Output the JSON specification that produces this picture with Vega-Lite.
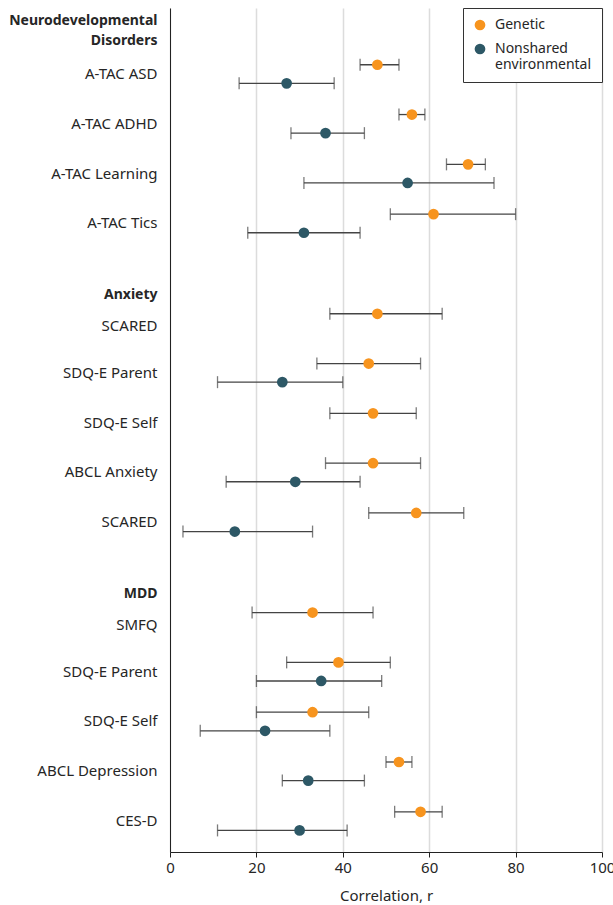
{
  "$schema": "https://vega.github.io/schema/vega-lite/v6.json",
  "width": 432,
  "height": 844,
  "autosize": {"type": "none"},
  "padding": {"left": 170, "top": 8, "right": 11, "bottom": 53},
  "config": {
    "font": "Noto Sans",
    "view": {"stroke": null},
    "axis": {"labelColor": "#262626", "titleColor": "#262626"}
  },
  "data": {
    "values": [
      {"measure": "Neuro|A-TAC ASD", "group": "Genetic", "r": 48, "lo": 44, "hi": 53},
      {"measure": "Neuro|A-TAC ASD", "group": "Nonshared environmental", "r": 27, "lo": 16, "hi": 38},
      {"measure": "Neuro|A-TAC ADHD", "group": "Genetic", "r": 56, "lo": 53, "hi": 59},
      {"measure": "Neuro|A-TAC ADHD", "group": "Nonshared environmental", "r": 36, "lo": 28, "hi": 45},
      {"measure": "Neuro|A-TAC Learning", "group": "Genetic", "r": 69, "lo": 64, "hi": 73},
      {"measure": "Neuro|A-TAC Learning", "group": "Nonshared environmental", "r": 55, "lo": 31, "hi": 75},
      {"measure": "Neuro|A-TAC Tics", "group": "Genetic", "r": 61, "lo": 51, "hi": 80},
      {"measure": "Neuro|A-TAC Tics", "group": "Nonshared environmental", "r": 31, "lo": 18, "hi": 44},
      {"measure": "Anx|SCARED", "group": "Genetic", "r": 48, "lo": 37, "hi": 63},
      {"measure": "Anx|SDQ-E Parent", "group": "Genetic", "r": 46, "lo": 34, "hi": 58},
      {"measure": "Anx|SDQ-E Parent", "group": "Nonshared environmental", "r": 26, "lo": 11, "hi": 40},
      {"measure": "Anx|SDQ-E Self", "group": "Genetic", "r": 47, "lo": 37, "hi": 57},
      {"measure": "Anx|ABCL Anxiety", "group": "Genetic", "r": 47, "lo": 36, "hi": 58},
      {"measure": "Anx|ABCL Anxiety", "group": "Nonshared environmental", "r": 29, "lo": 13, "hi": 44},
      {"measure": "Anx2|SCARED", "group": "Genetic", "r": 57, "lo": 46, "hi": 68},
      {"measure": "Anx2|SCARED", "group": "Nonshared environmental", "r": 15, "lo": 3, "hi": 33},
      {"measure": "MDD|SMFQ", "group": "Genetic", "r": 33, "lo": 19, "hi": 47},
      {"measure": "MDD|SDQ-E Parent", "group": "Genetic", "r": 39, "lo": 27, "hi": 51},
      {"measure": "MDD|SDQ-E Parent", "group": "Nonshared environmental", "r": 35, "lo": 20, "hi": 49},
      {"measure": "MDD|SDQ-E Self", "group": "Genetic", "r": 33, "lo": 20, "hi": 46},
      {"measure": "MDD|SDQ-E Self", "group": "Nonshared environmental", "r": 22, "lo": 7, "hi": 37},
      {"measure": "MDD|ABCL Depression", "group": "Genetic", "r": 53, "lo": 50, "hi": 56},
      {"measure": "MDD|ABCL Depression", "group": "Nonshared environmental", "r": 32, "lo": 26, "hi": 45},
      {"measure": "MDD|CES-D", "group": "Genetic", "r": 58, "lo": 52, "hi": 63},
      {"measure": "MDD|CES-D", "group": "Nonshared environmental", "r": 30, "lo": 11, "hi": 41}
    ]
  },
  "encoding": {
    "y": {
      "field": "measure",
      "type": "nominal",
      "scale": {
        "type": "band",
        "domain": [
          "H|Neurodevelopmental Disorders", "_01", "_02",
          "Neuro|A-TAC ASD", "_03", "_04",
          "Neuro|A-TAC ADHD", "_05", "_06",
          "Neuro|A-TAC Learning", "_07", "_08",
          "Neuro|A-TAC Tics", "_09", "_10", "_11",
          "H|Anxiety", "_12",
          "Anx|SCARED", "_13", "_14",
          "Anx|SDQ-E Parent", "_15", "_16",
          "Anx|SDQ-E Self", "_17", "_18",
          "Anx|ABCL Anxiety", "_19", "_20",
          "Anx2|SCARED", "_21", "_22", "_23",
          "H|MDD", "_24",
          "MDD|SMFQ", "_25", "_26",
          "MDD|SDQ-E Parent", "_27", "_28",
          "MDD|SDQ-E Self", "_29", "_30",
          "MDD|ABCL Depression", "_31", "_32",
          "MDD|CES-D"
        ],
        "paddingInner": 0,
        "paddingOuter": 0.92,
        "align": 0.26,
        "round": false
      },
      "axis": {
        "title": null,
        "ticks": false,
        "tickSize": 0,
        "grid": false,
        "domainColor": "#222222",
        "domainWidth": 1,
        "labelPadding": 13,
        "labelFontSize": {"condition": {"test": "indexof(datum.value, 'H|') == 0", "value": 14}, "value": 15},
        "labelLineHeight": 20,
        "labelLimit": 0,
        "labelExpr": "indexof(datum.value, '_') == 0 ? '' : datum.value == 'H|Neurodevelopmental Disorders' ? ['Neurodevelopmental', 'Disorders'] : split(datum.value, '|')[1]",
        "labelFontWeight": {"condition": {"test": "indexof(datum.value, 'H|') == 0", "value": "bold"}, "value": "normal"},
        "labelOffset": {
          "condition": [
            {"test": "datum.value == 'H|Neurodevelopmental Disorders'", "value": -3},
            {"test": "datum.value == 'H|Anxiety' || datum.value == 'H|MDD'", "value": 5},
            {"test": "datum.value == 'Anx|SCARED' || datum.value == 'MDD|SMFQ'", "value": 3}
          ],
          "value": 0
        }
      }
    },
    "yOffset": {
      "field": "group",
      "type": "nominal",
      "scale": {"domain": ["Genetic", "Nonshared environmental"], "range": [-10.3, 26.9], "paddingInner": 0, "paddingOuter": 0}
    }
  },
  "layer": [
    {
      "mark": {"type": "rule", "color": "#444444", "strokeWidth": 1.3},
      "encoding": {
        "x": {
          "field": "lo",
          "type": "quantitative",
          "scale": {"domain": [0, 100], "nice": false},
          "axis": {
            "title": "Correlation, r",
            "values": [0, 20, 40, 60, 80, 100],
            "grid": true,
            "gridColor": "#dcdcdc",
            "gridWidth": 1.5,
            "domainColor": "#222222",
            "tickColor": "#222222",
            "tickSize": 5,
            "labelFontSize": 15,
            "labelPadding": 3,
            "labelFlush": false,
            "titleFontSize": 15,
            "titleFontWeight": "normal",
            "titlePadding": 13
          }
        },
        "x2": {"field": "hi"}
      }
    },
    {
      "mark": {"type": "tick", "color": "#444444", "thickness": 1.3, "size": 12},
      "encoding": {"x": {"field": "lo", "type": "quantitative", "title": "Correlation, r"}}
    },
    {
      "mark": {"type": "tick", "color": "#444444", "thickness": 1.3, "size": 12},
      "encoding": {"x": {"field": "hi", "type": "quantitative", "title": "Correlation, r"}}
    },
    {
      "mark": {"type": "point", "filled": true, "size": 115, "opacity": 1},
      "encoding": {
        "x": {"field": "r", "type": "quantitative", "title": "Correlation, r"},
        "color": {
          "field": "group",
          "type": "nominal",
          "scale": {"domain": ["Genetic", "Nonshared environmental"], "range": ["#F7941E", "#2D5866"]},
          "legend": {
            "title": null,
            "orient": "top-right",
            "offset": 0,
            "padding": 10,
            "strokeColor": "#333333",
            "fillColor": "#ffffff",
            "labelFontSize": 14,
            "labelColor": "#262626",
            "labelLineHeight": 18,
            "labelOffset": 8,
            "rowPadding": 10,
            "symbolSize": 115,
            "symbolType": "circle",
            "symbolStrokeWidth": 0,
            "symbolOpacity": 1,
            "labelLimit": 0,
            "labelExpr": "datum.label == 'Nonshared environmental' ? ['Nonshared', 'environmental'] : datum.label"
          }
        }
      }
    }
  ]
}
